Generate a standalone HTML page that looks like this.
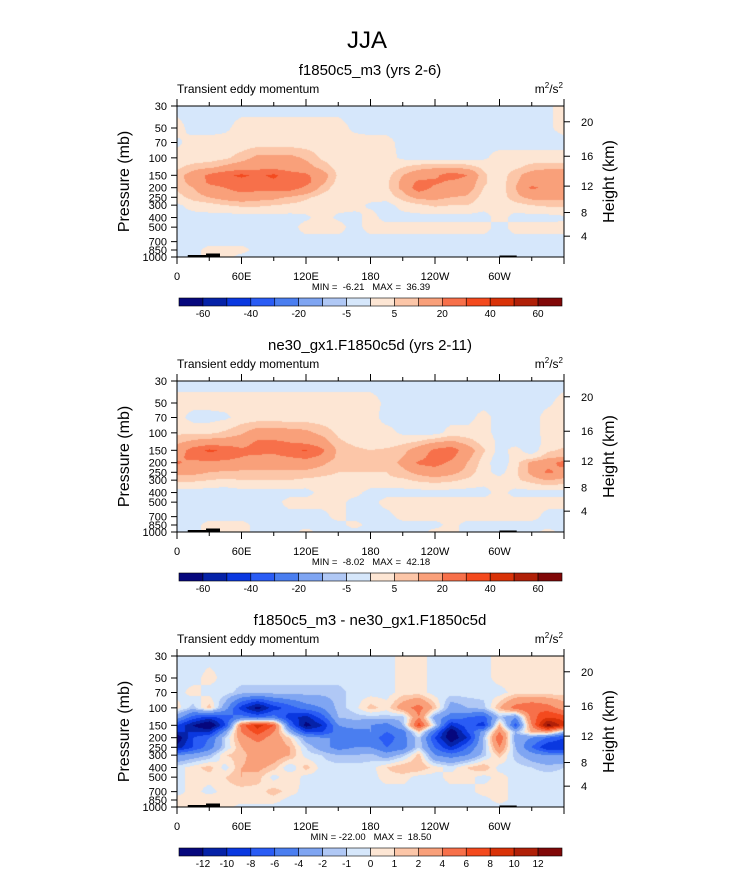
<!DOCTYPE html>
<html><head><meta charset="utf-8">
<style>
html,body{margin:0;padding:0;background:#fff;}
#root{position:relative;width:733px;height:888px;overflow:hidden;font-family:"Liberation Sans",sans-serif;}
canvas{position:absolute;}
svg{position:absolute;left:0;top:0;}
.pre{white-space:pre;}
</style></head>
<body>
<div id="root">
<canvas id="c0" width="387" height="151" style="left:177px;top:106px"></canvas>
<canvas id="c1" width="387" height="151" style="left:177px;top:381px"></canvas>
<canvas id="c2" width="387" height="151" style="left:177px;top:656px"></canvas>
<svg id="ov" width="733" height="888"></svg>
</div>
<script>
const lons=[0,15,30,45,60,75,90,105,120,135,150,165,180,195,210,225,240,255,270,285,300,315,330,345,360];
const pres=[30,50,70,100,125,150,175,200,250,300,400,500,700,850,1000];
const colors=["#06077d","#0522a8","#0a38e0","#2a5cf5","#4a7ef0","#7fa5f2","#b0c8f5","#d6e7fb","#fde6d4","#fcc6a8","#f9a07a","#f7704a","#f44a1e","#d93208","#b02008","#800808"];
const levelsAbs=[-60,-50,-40,-30,-20,-10,-5,0,5,10,20,30,40,50,60];
const levelsDiff=[-12,-10,-8,-6,-4,-2,-1,0,1,2,4,6,8,10,12];
const labelsAbs=["-60","-40","-20","-5","5","20","40","60"];
const labelsDiff=["-12","-10","-8","-6","-4","-2","-1","0","1","2","4","6","8","10","12"];
const xTickLabels=["0","60E","120E","180","120W","60W"];
const pTicks=[30,50,70,100,150,200,250,300,400,500,700,850,1000];
const hTicks=[4,8,12,16,20];
const dataA=[
[-2,-2,-2,-2,-2,-2,-2,-2,-2,-2,-2,-2,-2,-2,-2,-2,-2,-2,-2,-2,-2,-2,-2,-1,2],
[2,-2,-2,-1,2,2,2,2,2,2,2,-1,-2,-2,-2,-2,-2,-2,-2,-2,-2,-2,-2,-1,2],
[-1,2,2,2,2,2,2,2,2,2,2,2,2,2,-2,-2,-2,-2,-2,-1,-2,-2,-2,-2,-2],
[2,2,2,4,7,12,12,12,9,4,2,2,2,2,-1,-2,-2,-2,-2,-1,2,2,2,2,2],
[4,7,9,12,15,17,17,15,13,8,3,2,2,2,5,8,9,9,8,4,2,4,7,8,8],
[7,14,22,28,32,28,32,25,22,14,4,2,2,3,10,15,18,26,20,6,2,8,14,17,17],
[7,13,22,25,26,26,28,27,24,12,3,2,2,4,12,22,22,18,15,6,2,9,15,18,18],
[6,10,17,20,25,24,25,25,18,8,2,2,2,4,12,26,18,15,14,5,2,10,22,17,16],
[3,7,10,13,15,13,12,9,6,3,2,2,2,2,7,12,12,10,9,3,2,8,12,12,12],
[-1,2,3,5,6,6,5,4,3,2,2,2,-1,-2,2,4,6,5,5,2,2,3,5,6,6],
[-2,-2,-2,-3,-2,-2,-2,-2,-1,2,-1,-2,2,-2,-2,-2,-2,-2,-2,-2,2,-2,-2,-2,-1],
[-2,-2,-2,-2,-2,-1,-1,-2,2,2,2,-2,2,2,2,2,2,2,2,2,-2,2,2,2,2],
[-2,-2,-2,-2,-2,-2,-2,-2,-2,-2,-2,-2,-2,-2,-2,-2,-2,-2,-2,-2,-2,-2,-2,-2,-2],
[-2,-2,2,2,2,-2,-2,-2,-2,-2,-2,-2,-2,-2,-2,-2,-2,-2,-2,-2,-2,-2,-2,-2,-2],
[-2,-2,2,2,-2,-2,-2,-2,-2,-2,-2,-2,-2,-2,-2,-2,-2,-2,-2,-2,-2,-2,-2,-2,-2]];
const dataB=[
[-2,-2,-2,-2,-2,-2,-2,-2,-2,-2,-2,-2,-2,-2,-2,-2,-2,-2,-2,-2,-2,-2,-2,-2,-2],
[2,2,2,2,2,2,2,2,2,2,2,2,2,-1,-2,-2,-2,-2,-2,-2,-2,-2,-2,-1,2],
[2,-2,-2,-1,2,2,2,2,2,2,2,2,2,-2,-2,-2,-2,-2,-2,2,-2,-2,-2,2,2],
[4,4,4,6,9,14,14,13,12,8,4,2,2,2,-1,-2,-2,2,2,2,-2,-2,-2,2,2],
[9,12,14,14,15,22,22,20,18,14,6,4,3,2,4,6,10,12,8,3,-1,-2,-3,2,3],
[13,25,32,28,22,24,22,28,31,22,8,6,5,6,8,14,22,26,14,6,-2,2,-3,4,6],
[16,25,26,25,20,18,18,20,22,18,8,6,6,6,10,16,25,22,12,4,-3,2,2,8,10],
[22,16,18,16,14,14,14,16,16,12,6,6,6,6,12,22,24,18,10,3,-4,3,12,16,24],
[12,12,10,9,9,9,9,8,8,6,5,5,5,5,8,12,15,12,8,2,-2,4,12,22,16],
[6,6,5,4,5,5,5,5,4,4,4,4,4,4,4,6,7,6,4,2,2,4,7,10,8],
[-2,-2,-3,-3,-2,-2,-2,-2,-2,2,2,2,-2,-2,-2,-2,-2,-2,-2,-2,2,-2,-2,-2,-2],
[-2,-2,-2,-2,-2,-2,-2,2,2,2,2,-2,-2,2,2,2,2,2,2,2,2,2,2,2,2],
[-2,-2,-2,-2,-2,-2,-2,-2,-2,-2,2,-2,-2,-2,2,2,2,2,2,2,2,2,2,-2,-2],
[-2,-2,2,2,2,-2,-2,-2,-2,-2,-2,2,-2,-2,-2,-2,-2,2,-2,-2,-2,-2,-2,-2,-2],
[-2,-2,2,2,2,-2,-2,-2,2,-2,-2,-2,-2,-2,-2,-2,2,2,-2,-2,-2,-2,-2,2,-2]];
const dataC=[
[-0.5,-0.5,-0.5,-0.5,-0.5,-0.5,-0.5,-0.5,-0.5,-0.5,-0.5,-0.5,-0.5,-0.5,0.5,0.5,-0.5,-0.5,-0.5,-0.5,0.5,0.5,0.5,0.5,0.5],
[-0.5,-0.5,0.5,-0.5,-0.5,-0.5,-0.5,-0.5,-0.5,-0.5,-0.5,-0.5,-0.5,-0.5,0.5,0.5,-0.5,-0.5,-0.5,-0.5,0.5,0.5,0.5,0.5,0.5],
[-0.5,0.5,-0.5,-0.5,-1.5,-1.5,-1.5,-1.5,-1.5,-1.5,-1.5,-0.5,-0.5,-0.5,0.5,0.5,-0.5,-0.5,-0.5,-0.5,-0.5,0.5,0.5,0.5,0.5],
[0.5,-1.5,1.5,-3,-9,-13,-9,-7,-5,-4,-1.5,-0.5,1.5,0.5,3,5,1.5,-3,-2,-1.5,2,5,6,5,3],
[-3,-7,-9,-7,-5,-6,-5,-9,-11,-7,-2,-1.5,-1.5,-1.5,-1.5,4,-3,-5,-6,-7,-1.5,-4,5,8,7],
[-8,-12,-15,-8,5,9,6,-6,-13,-10,-4,-3,-4,-5,-2,7,-1,-10,-7,-9,2,-7,4,13,9],
[-10,-10,-10,-3,4,7,4,-2,-8,-8,-5,-5,-4,-6,-5,1,-6,-14,-8,-3,4,-2,2,3,-2],
[-14,-8,-6,-1,3,5,3,1,-3,-4,-4,-5,-5,-7,-5,-1,-8,-14,-10,-2,6,-3,-4,-6,-8],
[-11,-8,-5,-1,2,3,3,2,-1,-3,-5,-4,-4,-6,-5,-1,-6,-10,-6,-2,4,-2,-6,-10,-10],
[-4,-3,-2,1,1.5,3,3,2,-0.5,-1,-2,-2,-1.5,-3,-1.5,1.5,-4,-5,-4,-1.5,1.5,-1.5,-3,-4,-4],
[-0.5,0.5,1.5,-0.5,2,2.5,1.5,-1,1.5,-0.5,-0.5,-0.5,-0.5,1,2,2,0.5,-0.5,1,2,-0.5,-0.5,-1,-1.5,-1],
[-0.5,0.5,0.5,1,2,1.5,-0.5,1,-0.5,-0.5,-1,-0.5,-0.5,0.5,0.5,-0.5,-0.5,0.5,0.5,-0.5,0.5,-0.5,-0.5,-0.5,-0.5],
[-0.5,0.5,-0.5,0.5,0.5,0.5,1.5,0.5,-0.5,-0.5,-0.5,-0.5,-0.5,-0.5,-0.5,-0.5,-0.5,-0.5,-0.5,0.5,0.5,-0.5,-0.5,-0.5,-0.5],
[0.5,0.5,1,0.5,0.5,0.5,0.5,-0.5,-0.5,-0.5,-0.5,-0.5,-0.5,-0.5,-0.5,-0.5,-0.5,-0.5,-0.5,-0.5,0.5,-0.5,-0.5,-0.5,-0.5],
[0.5,0.5,1,0.5,-0.5,-0.5,-0.5,-0.5,-0.5,-0.5,-0.5,-0.5,-0.5,-0.5,-0.5,-0.5,-0.5,-0.5,-0.5,-0.5,-0.5,-0.5,-0.5,-0.5,-0.5]];
const subtitles=["f1850c5_m3 (yrs 2-6)","ne30_gx1.F1850c5d (yrs 2-11)","f1850c5_m3 - ne30_gx1.F1850c5d"];
const minmax=["MIN =  -6.21   MAX =  36.39","MIN =  -8.02   MAX =  42.18","MIN = -22.00   MAX =  18.50"];

const PX=177,PW=387,PH=151;
const tops=[106,381,656];
const LP=Math.log(1000/30);
function yOfP(p){return Math.log(p/30)/LP*PH;}
function xOfLon(l){return l/360*PW;}
function pOfZ(z){return 1013.25*Math.pow(1-2.25577e-5*z*1000,5.25588);}
function colorIdx(v,lv){let i=0;while(i<lv.length&&v>=lv[i])i++;return i;}

function drawField(cv,data,lv){
  const ctx=cv.getContext('2d');const img=ctx.createImageData(PW,PH);
  const rowY=pres.map(yOfP);
  const rgb=colors.map(c=>[parseInt(c.slice(1,3),16),parseInt(c.slice(3,5),16),parseInt(c.slice(5,7),16)]);
  for(let y=0;y<PH;y++){
    let r=0;while(r<pres.length-2&&rowY[r+1]<y+0.5)r++;
    let ty=(y+0.5-rowY[r])/(rowY[r+1]-rowY[r]);ty=Math.max(0,Math.min(1,ty));
    for(let x=0;x<PW;x++){
      const lon=(x+0.5)/PW*360;let c=Math.min(23,Math.floor(lon/15));let tx=(lon-lons[c])/15;
      const v=(data[r][c]*(1-tx)+data[r][c+1]*tx)*(1-ty)+(data[r+1][c]*(1-tx)+data[r+1][c+1]*tx)*ty;
      const k=rgb[colorIdx(v,lv)];const o=(y*PW+x)*4;
      img.data[o]=k[0];img.data[o+1]=k[1];img.data[o+2]=k[2];img.data[o+3]=255;
    }
  }
  ctx.putImageData(img,0,0);
}
drawField(document.getElementById('c0'),dataA,levelsAbs);
drawField(document.getElementById('c1'),dataB,levelsAbs);
drawField(document.getElementById('c2'),dataC,levelsDiff);

const NS="http://www.w3.org/2000/svg";const ov=document.getElementById('ov');
function mk(tag,attrs,parent,txt){const e=document.createElementNS(NS,tag);for(const k in attrs)e.setAttribute(k,attrs[k]);if(txt!==undefined)e.textContent=txt;(parent||ov).appendChild(e);return e;}

const t=mk('text',{x:367,y:48,'font-size':24,'text-anchor':'middle'},ov,'JJA');



for(let i=0;i<3;i++){
  const T=tops[i];
  const g=mk('g',{});
  
  
  const st=mk('text',{x:370,y:T-31,'font-size':15,'text-anchor':'middle'},g,subtitles[i]);
  
  
  const lt=mk('text',{x:PX,y:T-13,'font-size':12},g,'Transient eddy momentum');
  
  
  const ut=mk('text',{x:PX+PW-1,y:T-13,'font-size':12,'text-anchor':'end'},g);
  
  
  mk('tspan',{},ut,'m');mk('tspan',{dy:-5,'font-size':8},ut,'2');mk('tspan',{dy:5},ut,'/s');mk('tspan',{dy:-5,'font-size':8},ut,'2');
  const topo=[[10,27,2],[27,40,3.5],[300,316,1.5]];
  topo.forEach(a=>{const r=mk('rect',{x:PX+xOfLon(a[0]),y:T+PH-a[2],width:xOfLon(a[1]-a[0]),height:a[2],fill:'#000'},g);
    
    });
  const fr=mk('rect',{x:PX,y:T,width:PW,height:PH,fill:'none',stroke:'#000','stroke-width':1},g);
  
  
  for(let l=0;l<=360;l+=30){const x=PX+xOfLon(l);const L=(l%60===0)?7:4;
    mk('line',{x1:x,y1:T,x2:x,y2:T-L,stroke:'#000'},g);mk('line',{x1:x,y1:T+PH,x2:x,y2:T+PH+L,stroke:'#000'},g);}
  xTickLabels.forEach((s,k)=>{const tx=mk('text',{x:PX+xOfLon(k*60),y:T+PH+23,'font-size':11,'text-anchor':'middle'},g,s);
    
    });
  pTicks.forEach(p=>{const y=T+yOfP(p);mk('line',{x1:PX,y1:y,x2:PX-6,y2:y,stroke:'#000'},g);
    const tx=mk('text',{x:PX-10,y:y+4,'font-size':11,'text-anchor':'end'},g,String(p));
    
    });
  hTicks.forEach(z=>{const y=T+yOfP(pOfZ(z));mk('line',{x1:PX+PW,y1:y,x2:PX+PW+6,y2:y,stroke:'#000'},g);
    const tx=mk('text',{x:PX+PW+17,y:y+4,'font-size':11},g,String(z));
    
    });
  const ya=mk('text',{x:0,y:0,'font-size':16,'text-anchor':'middle',transform:`translate(129,${T+PH/2}) rotate(-90)`},g,'Pressure (mb)');
  
  
  const ya2=mk('text',{x:0,y:0,'font-size':16,'text-anchor':'middle',transform:`translate(614,${T+PH/2}) rotate(-90)`},g,'Height (km)');
  
  
  const mm=mk('text',{x:371,y:T+PH+33,'font-size':9.5,'text-anchor':'middle',class:'pre'},g,minmax[i]);
  
  
  const cb=mk('g',{},g);
  
  
  const cbx=179,cbw=383,cby=T+192,bw=cbw/16;
  colors.forEach((c,k)=>{mk('rect',{x:cbx+k*bw,y:cby,width:bw,height:8,fill:c,stroke:'#000','stroke-width':0.6},cb);});
  if(i<2){labelsAbs.forEach((s,k)=>{const tx=mk('text',{x:cbx+(2*k+1)*bw,y:cby+19,'font-size':10,'text-anchor':'middle'},cb,s);
    
    });}
  else{labelsDiff.forEach((s,k)=>{const tx=mk('text',{x:cbx+(k+1)*bw,y:cby+19,'font-size':10,'text-anchor':'middle'},cb,s);
    
    });}
}
</script>
</body></html>
